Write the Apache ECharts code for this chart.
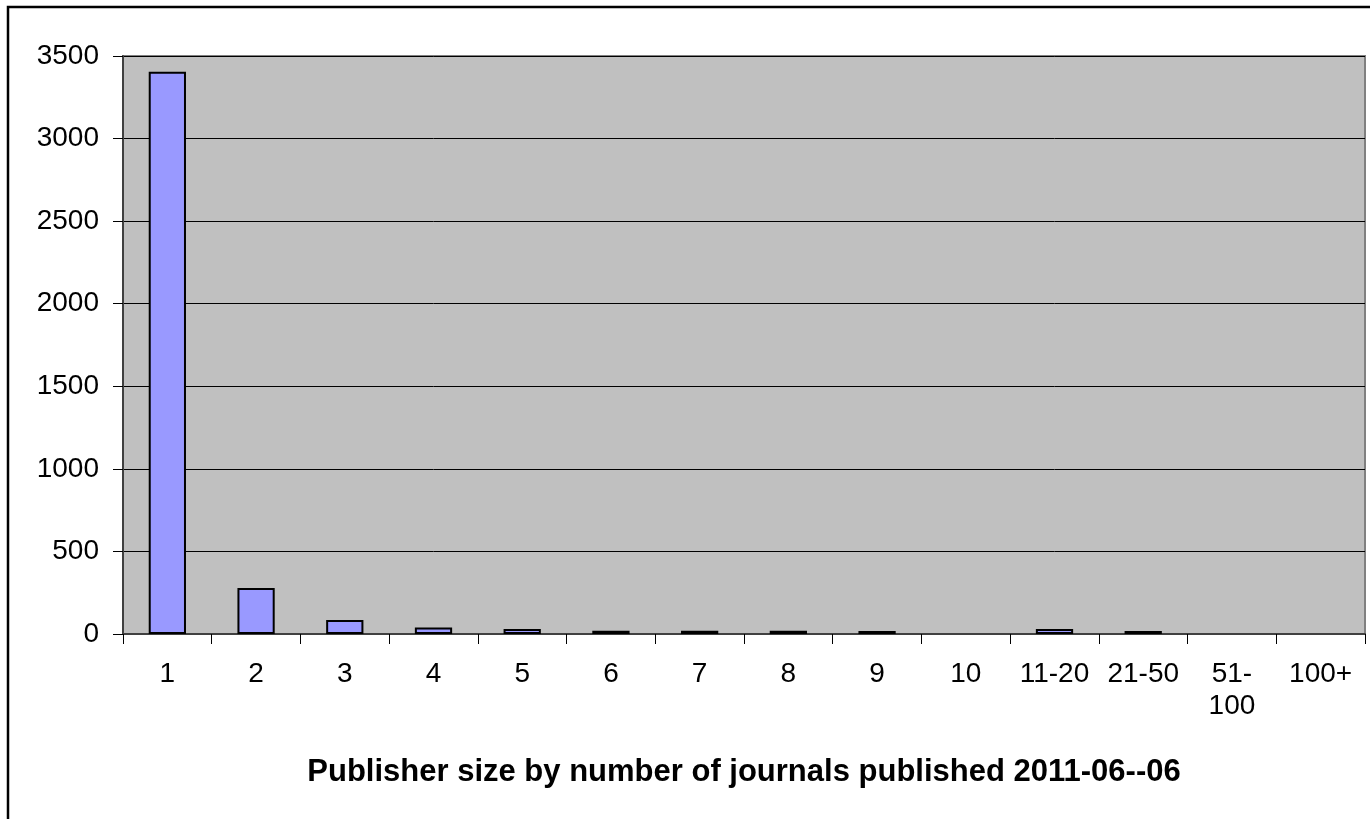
<!DOCTYPE html>
<html>
<head>
<meta charset="utf-8">
<style>
  html, body { margin: 0; padding: 0; background: #fff; }
  #chart { width: 1370px; height: 819px; }
</style>
<script src="https://cdn.jsdelivr.net/npm/echarts@6/dist/echarts.min.js"></script>
</head>
<body>
<div id="chart"></div>
<script>
// Publisher size buckets (number of journals per publisher)
const categories = ['1', '2', '3', '4', '5', '6', '7', '8', '9', '10', '11-20', '21-50', '51-\n100', '100+'];
// Number of publishers in each bucket
const publisherCounts = [3405, 278, 85, 40, 30, 20, 20, 20, 18, 0, 30, 18, 0, 0];
// Value axis ticks
const yMin = 0;
const yMax = 3500;
const yStep = 500;
const axisTitle = 'Publisher size by number of journals published 2011-06--06';

const FONT = '"Liberation Sans", Arial, sans-serif';

const chart = echarts.init(document.getElementById('chart'), null, { renderer: 'canvas' });

chart.setOption({
  animation: false,
  backgroundColor: '#ffffff',
  graphic: [{
    type: 'rect',
    shape: { x: 8, y: 7, width: 1400, height: 900 },
    style: { fill: 'none', stroke: '#000000', lineWidth: 2.5 },
    silent: true
  }],
  grid: {
    left: 123, top: 56, right: 5, bottom: 185,
    show: true,
    backgroundColor: '#C0C0C0',
    borderColor: '#808080',
    borderWidth: 2
  },
  xAxis: {
    type: 'category',
    data: categories,
    name: axisTitle,
    nameLocation: 'middle',
    nameGap: 123,
    nameTextStyle: { fontFamily: FONT, fontSize: 31, fontWeight: 'bold', color: '#000' },
    axisLine: { show: true, lineStyle: { color: '#404040', width: 2 } },
    axisTick: { show: true, length: 10, lineStyle: { color: '#000', width: 1 } },
    axisLabel: { interval: 0, margin: 24, fontFamily: FONT, fontSize: 28, color: '#000', lineHeight: 32 },
    splitLine: { show: false }
  },
  yAxis: {
    type: 'value',
    min: yMin, max: yMax, interval: yStep,
    axisLine: { show: true, lineStyle: { color: '#404040', width: 2 } },
    axisTick: { show: true, length: 10, lineStyle: { color: '#000', width: 1 } },
    axisLabel: { margin: 24, fontFamily: FONT, fontSize: 28, color: '#000', formatter: v => String(v) },
    splitLine: { show: true, lineStyle: { color: '#000', width: 1 } }
  },
  series: [{
    type: 'bar',
    data: publisherCounts.map(v => ({
      value: v,
      itemStyle: v === 0 ? { borderWidth: 0 } : {}
    })),
    barWidth: '42%',
    itemStyle: { color: '#9999FF', borderColor: '#000000', borderWidth: 2 }
  }]
});
</script>
</body>
</html>
